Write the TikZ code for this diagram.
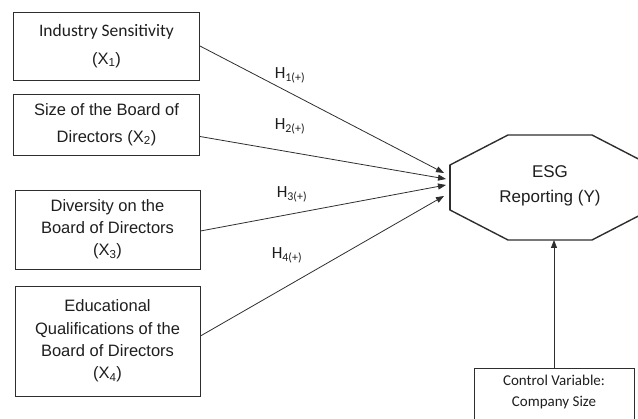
\documentclass[tikz,border=0pt]{standalone}
\usepackage{fontspec}
\setmainfont{Liberation Sans}
\newfontfamily\calfont{Carlito}
\usetikzlibrary{arrows.meta,calc}
\definecolor{edge}{HTML}{2E2E2E}
\definecolor{txt}{HTML}{1E1E1E}
\tikzset{
  varbox/.style={draw=edge,line width=0.9pt,align=center,text=txt,inner sep=0pt,minimum width=186pt},
  link/.style={draw=edge,line width=0.8pt,-{Triangle[length=8pt,width=6pt]}},
  hlab/.style={text=txt,font=\calfont\fontsize{17}{19}\selectfont,inner sep=0pt},
}
\begin{document}
\begin{tikzpicture}[x=1pt,y=-1pt]
\useasboundingbox (0,0) rectangle (638,419);
\begin{scope}
\clip (0,0) rectangle (638,419);
% boxes
\node[varbox,minimum height=68pt,font=\fontsize{16.5}{29}\selectfont] (b1) at (106.5,46)
  {{\calfont\fontsize{17.5}{29}\selectfont Industry Sensitivity}\\[-1pt](X\textsubscript{1})};
\node[varbox,minimum height=61pt,font=\fontsize{16.5}{27}\selectfont] (b2) at (106.5,124.5)
  {Size of the Board of\\Directors (X\textsubscript{2})};
\node[varbox,minimum width=185pt,minimum height=79pt,font=\fontsize{16.5}{22}\selectfont] (b3) at (107.5,229.5)
  {Diversity on the\\Board of Directors\\(X\textsubscript{3})};
\node[varbox,minimum width=185pt,minimum height=110pt,font=\fontsize{16.5}{22.3}\selectfont] (b4) at (107.5,341)
  {Educational\\Qualifications of the\\Board of Directors\\(X\textsubscript{4})};
% octagon
\coordinate (o1) at (450,165);
\coordinate (o2) at (508,135);
\coordinate (o3) at (592,135);
\coordinate (o4) at (650,165);
\coordinate (o5) at (650,210);
\coordinate (o6) at (592,240);
\coordinate (o7) at (508,240);
\coordinate (o8) at (450,210);
\draw[edge,line width=1.4pt,line join=miter] (o1) -- (o2) -- (o3) -- (o4) -- (o5) -- (o6) -- (o7) -- (o8) -- cycle;
\draw[edge,line width=2pt] (o1) -- (o8);
\node[text=txt,align=center,inner sep=0pt,font=\fontsize{17}{25}\selectfont] (esg) at (550,186) {ESG\\Reporting (Y)};
% control box
\node[draw=edge,line width=0.9pt,minimum width=160pt,anchor=north,align=center,inner xsep=0pt,inner ysep=7pt,text=txt,font=\calfont\fontsize{15}{21}\selectfont] (ctrl) at (554,368)
  {Control Variable:\\Company Size\rule[-14pt]{0pt}{14pt}};
% arrow targets
\coordinate (t1) at (444,173);
\coordinate (t2) at (446,179);
\coordinate (t3) at (446,185);
\coordinate (t4) at (444,196);
\coordinate (tb) at (554,240);
\draw[link] (b1.east) -- (t1);
\draw[link] ([yshift=-12pt]b2.east) -- (t2);
\draw[link] ([yshift=-1.5pt]b3.east) -- (t3);
\draw[link] ([yshift=5pt]b4.east) -- (t4);
\draw[link] (ctrl.north) -- (tb);
% labels
\node[hlab] (h1) at (290,75) {H\textsubscript{1(+)}};
\node[hlab] (h2) at (290,126) {H\textsubscript{2(+)}};
\node[hlab] (h3) at (292,194) {H\textsubscript{3(+)}};
\node[hlab] (h4) at (287,255) {H\textsubscript{4(+)}};
\end{scope}
\end{tikzpicture}
\end{document}
